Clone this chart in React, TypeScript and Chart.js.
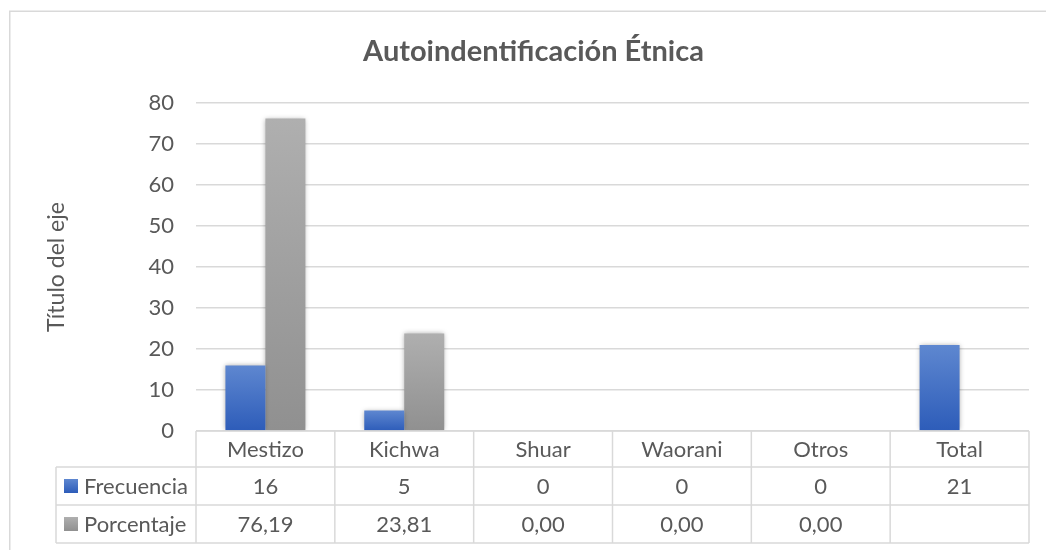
import React, { useEffect, useRef } from "react";
import { Chart, registerables } from "chart.js";

Chart.register(...registerables);

const title = "Autoindentificación Étnica";
const axisTitle = "Título del eje";
const categories = ["Mestizo", "Kichwa", "Shuar", "Waorani", "Otros", "Total"];
const frecuencia: (number | null)[] = [16, 5, 0, 0, 0, 21];
const porcentaje: (number | null)[] = [76.19, 23.81, 0, 0, 0, null];
const seriesNames = ["Frecuencia", "Porcentaje"];
const yTicks = [0, 10, 20, 30, 40, 50, 60, 70, 80];

const FONT = "Lato, 'Noto Sans', sans-serif";
const TEXT = "#595959";
const LINE = "#d9d9d9";
const BLUE_TOP = "#5e87d0";
const BLUE_BOT = "#2d5cb9";
const GRAY_TOP = "#afafaf";
const GRAY_BOT = "#909090";

const grad = (top: string, bottom: string) => (c: any) => {
  const chart = c.chart;
  if (!chart.chartArea || c.raw == null || !chart.scales?.y) return bottom;
  const ys = chart.scales.y;
  const y = ys.getPixelForValue(c.raw);
  const y0 = ys.getPixelForValue(0);
  if (!isFinite(y) || Math.abs(y0 - y) < 1) return bottom;
  const g = chart.ctx.createLinearGradient(0, y, 0, y0);
  g.addColorStop(0, top);
  g.addColorStop(1, bottom);
  return g;
};

const fmtPct = (v: number | null) => (v == null ? "" : v.toFixed(2).replace(".", ","));
const fmtFreq = (v: number | null) => (v == null ? "" : String(v));

const framePlugin = {
  id: "frame",
  beforeDraw(chart: any) {
    const ctx = chart.ctx;
    ctx.save();
    ctx.fillStyle = "#ffffff";
    ctx.fillRect(0, 0, chart.width, chart.height);
    ctx.strokeStyle = LINE;
    ctx.lineWidth = 1.5;
    ctx.strokeRect(9.75, 11.25, chart.width + 20, chart.height + 20);
    // title
    ctx.fillStyle = TEXT;
    ctx.font = `bold 29px ${FONT}`;
    ctx.textAlign = "center";
    ctx.textBaseline = "middle";
    ctx.fillText(title, (chart.chartArea.left + chart.chartArea.right) / 2 - 79, 52);
    // axis title
    ctx.save();
    ctx.translate(57, (chart.chartArea.top + chart.chartArea.bottom) / 2);
    ctx.rotate(-Math.PI / 2);
    ctx.font = `23px ${FONT}`;
    ctx.fillText(axisTitle, 0, 0);
    ctx.restore();
    ctx.restore();
  },
  beforeDatasetsDraw(chart: any) {
    const ctx = chart.ctx;
    ctx.save();
    ctx.shadowColor = "rgba(0,0,0,0.35)";
    ctx.shadowBlur = 5;
    ctx.shadowOffsetX = 0;
    ctx.shadowOffsetY = 0;
  },
  afterDatasetsDraw(chart: any) {
    chart.ctx.restore();
  },
  afterDraw(chart: any) {
    const ctx = chart.ctx;
    const ca = chart.chartArea;
    const xs = chart.scales.x;
    const n = categories.length;
    const colW = (ca.right - ca.left) / n;
    const legendLeft = 56;
    const rows = [ca.bottom, ca.bottom + 36, ca.bottom + 74, ca.bottom + 112];
    ctx.save();
    ctx.strokeStyle = LINE;
    ctx.lineWidth = 1.5;
    ctx.beginPath();
    ctx.moveTo(ca.left, rows[0]);
    ctx.lineTo(ca.right, rows[0]);
    for (let r = 1; r < rows.length; r++) {
      ctx.moveTo(legendLeft, rows[r]);
      ctx.lineTo(ca.right, rows[r]);
    }
    ctx.moveTo(legendLeft, rows[1]);
    ctx.lineTo(legendLeft, rows[3]);
    for (let i = 0; i <= n; i++) {
      const x = i < n ? xs.getPixelForValue(i) - colW / 2 : xs.getPixelForValue(n - 1) + colW / 2;
      ctx.moveTo(x, rows[0]);
      ctx.lineTo(x, rows[3]);
    }
    ctx.stroke();

    ctx.fillStyle = TEXT;
    ctx.font = `22px ${FONT}`;
    ctx.textAlign = "center";
    ctx.textBaseline = "middle";
    const mid = (r: number) => (rows[r] + rows[r + 1]) / 2 + 1;
    categories.forEach((c, i) => {
      const cx = xs.getPixelForValue(i);
      ctx.fillText(c, cx, mid(0));
      ctx.fillText(fmtFreq(frecuencia[i]), cx, mid(1));
      ctx.fillText(fmtPct(porcentaje[i]), cx, mid(2));
    });

    // legend keys
    const keys = [
      [BLUE_TOP, BLUE_BOT],
      [GRAY_TOP, GRAY_BOT],
    ];
    keys.forEach((k, r) => {
      const cy = mid(r + 1) - 1;
      const g = ctx.createLinearGradient(0, cy - 7, 0, cy + 7);
      g.addColorStop(0, k[0]);
      g.addColorStop(1, k[1]);
      ctx.fillStyle = g;
      ctx.fillRect(64, cy - 7, 14, 14);
      ctx.fillStyle = TEXT;
      ctx.textAlign = "left";
      ctx.fillText(seriesNames[r], 84, cy + 1);
    });
    ctx.restore();
  },
};

export default function App() {
  const ref = useRef<HTMLCanvasElement | null>(null);
  useEffect(() => {
    if (!ref.current) return;
    const chart = new Chart(ref.current, {
      type: "bar",
      data: {
        labels: categories,
        datasets: [
          {
            label: seriesNames[0],
            data: frecuencia,
            backgroundColor: grad(BLUE_TOP, BLUE_BOT),
            borderWidth: 0,
            barPercentage: 1,
            categoryPercentage: 0.576,
          },
          {
            label: seriesNames[1],
            data: porcentaje,
            backgroundColor: grad(GRAY_TOP, GRAY_BOT),
            borderWidth: 0,
            barPercentage: 1,
            categoryPercentage: 0.576,
          },
        ],
      },
      options: {
        responsive: false,
        animation: false,
        devicePixelRatio: 1,
        layout: { padding: { left: 10, top: 103, right: 17, bottom: 119 } },
        plugins: {
          legend: { display: false },
          tooltip: { enabled: false },
          title: { display: false },
        },
        scales: {
          x: { display: false },
          y: {
            min: 0,
            max: 80,
            afterFit: (s: any) => {
              s.width = 186;
            },
            afterBuildTicks: (s: any) => {
              s.ticks = yTicks.map((v) => ({ value: v }));
            },
            border: { display: false },
            grid: { color: LINE, lineWidth: 1.5, drawTicks: false },
            ticks: {
              padding: 22,
              color: TEXT,
              font: { family: FONT, size: 22 },
            },
          },
        },
      },
      plugins: [framePlugin],
    });
    return () => chart.destroy();
  }, []);
  return (
    <div style={{ position: "fixed", left: 0, top: 0, width: 1046, height: 550, background: "#fff" }}>
      <canvas ref={ref} width={1046} height={550} style={{ display: "block" }} />
    </div>
  );
}
